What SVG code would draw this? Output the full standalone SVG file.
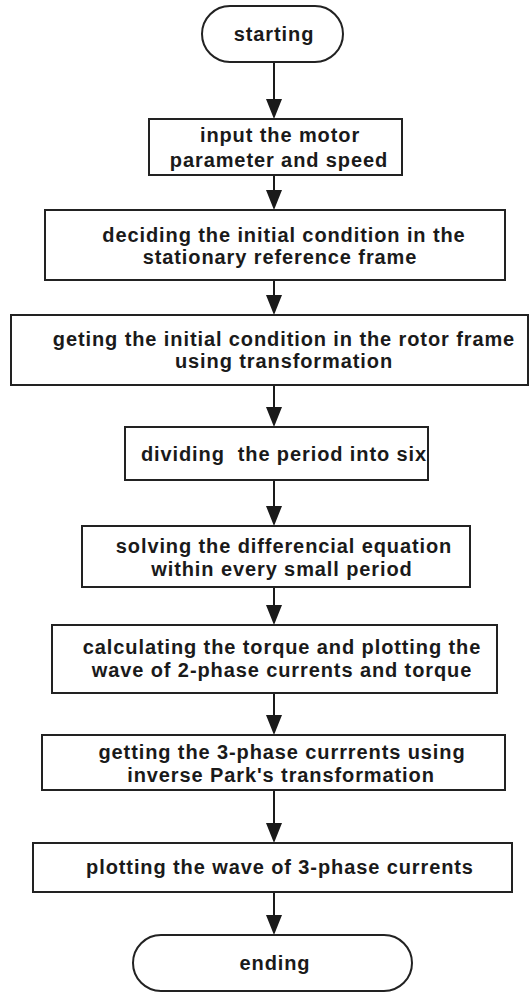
<svg xmlns="http://www.w3.org/2000/svg" width="530" height="993" viewBox="0 0 530 993">
<defs>
<style>
.shape{fill:#ffffff;stroke:#222;stroke-width:2}
.lbl{font-family:"Liberation Sans",Arial,sans-serif;font-weight:bold;font-size:20px;letter-spacing:0.9px;fill:#1a1a1a;text-anchor:middle}
.conn{stroke:#1a1a1a;stroke-width:2;fill:none;marker-end:url(#ah)}
</style>
<marker id="ah" viewBox="0 0 20 16" markerUnits="userSpaceOnUse" markerWidth="20" markerHeight="16" refX="16" refY="8" orient="auto">
<path d="M0,0 L20,8 L0,16 z" fill="#1a1a1a"/>
</marker>
</defs>
<rect width="530" height="993" fill="#ffffff"/>
<g id="connectors">
<line class="conn" x1="274" y1="62" x2="274" y2="115"/>
<line class="conn" x1="274" y1="175" x2="274" y2="206"/>
<line class="conn" x1="274" y1="280" x2="274" y2="311"/>
<line class="conn" x1="274" y1="385" x2="274" y2="423"/>
<line class="conn" x1="274" y1="480" x2="274" y2="522"/>
<line class="conn" x1="274" y1="587" x2="274" y2="621"/>
<line class="conn" x1="274" y1="693" x2="274" y2="731"/>
<line class="conn" x1="274" y1="790" x2="274" y2="839"/>
<line class="conn" x1="274" y1="892" x2="274" y2="931"/>
</g>
<g id="start">
<rect class="shape" x="202" y="6" width="141" height="56" rx="28" ry="28"/>
<text class="lbl" x="274" y="41">starting</text>
</g>
<g id="input">
<rect class="shape" x="149" y="119" width="253" height="56"/>
<text class="lbl" x="280" y="142">input the motor</text>
<text class="lbl" x="279" y="167">parameter and speed</text>
</g>
<g id="deciding">
<rect class="shape" x="45" y="210" width="460" height="70"/>
<text class="lbl" x="284" y="242">deciding the initial condition in the</text>
<text class="lbl" x="280" y="264">stationary reference frame</text>
</g>
<g id="geting">
<rect class="shape" x="11" y="315" width="517" height="70"/>
<text class="lbl" x="284" y="346">geting the initial condition in the rotor frame</text>
<text class="lbl" x="284" y="368">using transformation</text>
</g>
<g id="dividing">
<rect class="shape" x="125" y="427" width="303" height="53"/>
<text class="lbl" x="284" y="461" xml:space="preserve">dividing  the period into six</text>
</g>
<g id="solving">
<rect class="shape" x="82" y="526" width="388" height="61"/>
<text class="lbl" x="284" y="553">solving the differencial equation</text>
<text class="lbl" x="282" y="576">within every small period</text>
</g>
<g id="calculating">
<rect class="shape" x="52" y="625" width="445" height="68"/>
<text class="lbl" x="282" y="654">calculating the torque and plotting the</text>
<text class="lbl" x="282" y="677">wave of 2-phase currents and torque</text>
</g>
<g id="getting">
<rect class="shape" x="42" y="735" width="463" height="55"/>
<text class="lbl" x="282" y="759">getting the 3-phase currrents using</text>
<text class="lbl" x="281" y="782">inverse Park's transformation</text>
</g>
<g id="plotting">
<rect class="shape" x="33" y="843" width="479" height="49"/>
<text class="lbl" x="280" y="874">plotting the wave of 3-phase currents</text>
</g>
<g id="end">
<rect class="shape" x="133" y="935" width="279" height="56" rx="28" ry="28"/>
<text class="lbl" x="275" y="970">ending</text>
</g>
</svg>
